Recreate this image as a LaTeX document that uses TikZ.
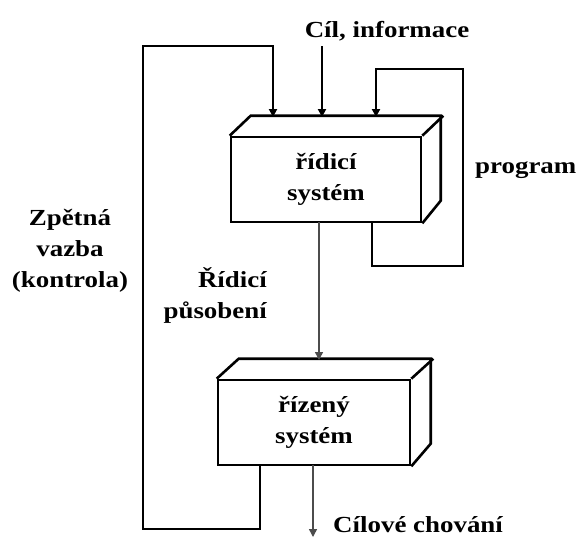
\documentclass[tikz,border=0pt]{standalone}
\usepackage{fontspec}
\setmainfont[FakeStretch=1.17]{Liberation Serif}
\usetikzlibrary{arrows.meta,calc}
\begin{document}
\begin{tikzpicture}[x=1pt,y=-1pt,
  lbl/.style={font=\fontsize{23}{31}\selectfont\bfseries, align=center, inner sep=0pt},
  sysbox/.style={draw, line width=2.6pt, minimum width=190pt, minimum height=85pt, inner sep=0pt, fill=white,
    font=\fontsize{23}{31}\selectfont\bfseries, align=center},
  thick line/.style={line width=2.6pt},
  thin line/.style={line width=1.4pt, draw=black!70},
  tip/.style={-{Triangle[length=8pt,width=8pt]}}
]
\useasboundingbox (0,0) rectangle (577,539);
% control system box
\node[sysbox] (ctl) at (326,179.5) {řídicí\\systém};
\draw[thick line, line join=miter] (ctl.north west) -- ++(21,-20) -- ++(190,0) -- ++(0,85) -- (ctl.south east);
\draw[thick line] (ctl.north east) -- ++(21,-20);
% controlled system box
\node[sysbox, minimum width=192pt] (sys) at (314,422.5) {řízený\\systém};
\draw[thick line, line join=miter] (sys.north west) -- ++(22,-20) -- ++(192,0) -- ++(0,85) -- (sys.south east);
\draw[thick line] (sys.north east) -- ++(22,-20);
% coordinates
\coordinate (inA) at (273,117);
\coordinate (inB) at (322,117);
\coordinate (inC) at (376,117);
\coordinate (ctlout) at (319,222);
\coordinate (sysin) at (319,360);
\coordinate (fbstart) at (260,465);
\coordinate (outstart) at (313,465);
\coordinate (outend) at (313,537);
\coordinate (progstart) at (372,222);
\coordinate (cilstart) at (322,46);
% labels
\node[lbl] (cil) at (387,31) {Cíl, informace};
\node[lbl, anchor=west] (prog) at (475,170) {program};
\node[lbl] (zpet) at (70,251) {Zpětná\\vazba\\(kontrola)};
\node[lbl, align=right, anchor=east] (ridp) at (267,295) {Řídicí\\působení};
\node[lbl, anchor=west] (cilch) at (333,525) {Cílové chování};
% connectors
\draw[thick line, tip] (cilstart) -- (inB);
\draw[thick line, tip, line join=miter] (progstart) -- (372,266) -- (463,266) -- (463,69) -- (376,69) -- (inC);
\draw[thick line, tip, line join=miter] (fbstart) -- (260,529) -- (143,529) -- (143,46) -- (273,46) -- (inA);
\draw[thin line, tip] (ctlout) -- (sysin);
\draw[thin line, tip] (outstart) -- (outend);
\end{tikzpicture}
\end{document}
